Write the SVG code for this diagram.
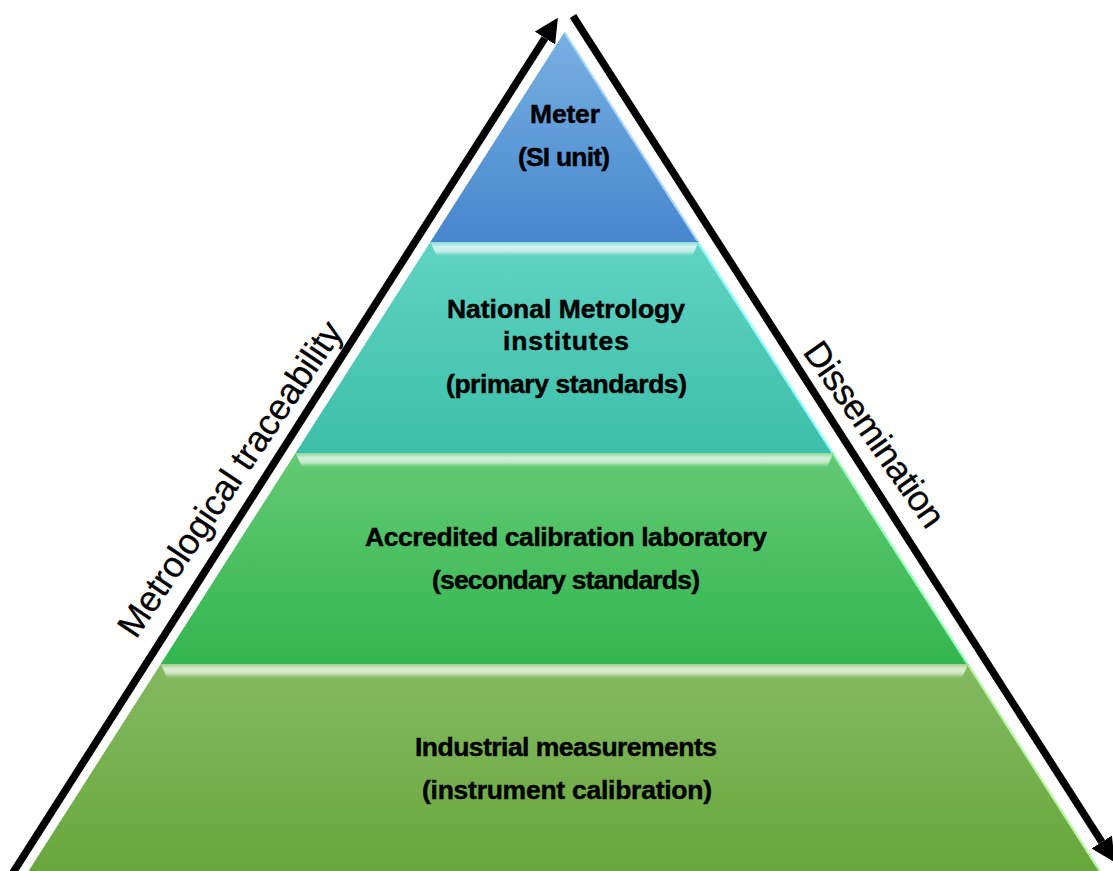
<svg xmlns="http://www.w3.org/2000/svg" width="1113" height="871" viewBox="0 0 1113 871">
  <defs>
    <style>
      .tier-label { font-family: "Liberation Sans", Arial, sans-serif; font-weight: bold; font-size: 26.5px; fill: #000; stroke: #000; stroke-width: 0.45; text-anchor: middle; }
      .side-label { font-family: "Liberation Sans", Arial, sans-serif; font-size: 36px; fill: #000; stroke: #000; stroke-width: 0.25; }
      .arrow { fill: none; stroke: #000; stroke-width: 7.5; stroke-linecap: butt; }
      .sheen { fill: none; stroke-width: 2.2; stroke-linecap: round; }
      .bevel { fill: url(#bevelGlow); }
    </style>
    <linearGradient id="g1" x1="0" y1="0" x2="0" y2="1">
      <stop offset="0" stop-color="#78b0e2"/>
      <stop offset="1" stop-color="#4686cc"/>
    </linearGradient>
    <linearGradient id="g2" x1="0" y1="0" x2="0" y2="1">
      <stop offset="0" stop-color="#61d3c3"/>
      <stop offset="1" stop-color="#3cbfa9"/>
    </linearGradient>
    <linearGradient id="g3" x1="0" y1="0" x2="0" y2="1">
      <stop offset="0" stop-color="#64ca75"/>
      <stop offset="1" stop-color="#33b54f"/>
    </linearGradient>
    <linearGradient id="g4" x1="0" y1="0" x2="0" y2="1">
      <stop offset="0" stop-color="#84ba62"/>
      <stop offset="1" stop-color="#66a539"/>
    </linearGradient>
    <!-- glossy strip along the top edge of each lower tier -->
    <linearGradient id="bevelGlow" x1="0" y1="0" x2="0" y2="1">
      <stop offset="0" stop-color="#ffffff" stop-opacity="0.25"/>
      <stop offset="0.35" stop-color="#ffffff" stop-opacity="0.72"/>
      <stop offset="0.65" stop-color="#ffffff" stop-opacity="0.62"/>
      <stop offset="1" stop-color="#ffffff" stop-opacity="0"/>
    </linearGradient>
    <marker id="head" markerUnits="userSpaceOnUse" viewBox="0 0 24 24" refX="0" refY="12" markerWidth="24" markerHeight="24" orient="auto">
      <path d="M0,0 L24,12 L0,24 Z" fill="#000"/>
    </marker>
  </defs>

  <rect width="1113" height="871" fill="#ffffff"/>

  <!-- Tier 1: apex -->
  <g id="tier-si-unit">
    <polygon points="564.5,32 698.7,242 430.3,242" fill="url(#g1)"/>
    <line class="sheen" x1="565.5" y1="34" x2="697" y2="240" stroke="#a9d6ff"/>
    <text class="tier-label" x="565" y="123" textLength="70">Meter</text>
    <text class="tier-label" x="564" y="166" textLength="92">(SI unit)</text>
  </g>

  <!-- Tier 2 -->
  <g id="tier-national">
    <polygon points="430.3,242 698.7,242 833.5,453 295.5,453" fill="url(#g2)"/>
    <polygon class="bevel" points="430.3,242 698.7,242 692.2,256 436.8,256"/>
    <line class="sheen" x1="699" y1="244" x2="832" y2="452" stroke="#8ffcff"/>
    <text class="tier-label" x="566" y="318" textLength="238">National Metrology</text>
    <text class="tier-label" x="566" y="350" textLength="126">institutes</text>
    <text class="tier-label" x="566.5" y="393" textLength="241">(primary standards)</text>
  </g>

  <!-- Tier 3 -->
  <g id="tier-accredited">
    <polygon points="295.5,453 833.5,453 968.3,664 160.7,664" fill="url(#g3)"/>
    <polygon class="bevel" points="295.5,453 833.5,453 827,467 302,467"/>
    <line class="sheen" x1="834" y1="455" x2="967" y2="663" stroke="#9dffc0"/>
    <text class="tier-label" x="566" y="546" textLength="402">Accredited calibration laboratory</text>
    <text class="tier-label" x="566" y="589" textLength="268">(secondary standards)</text>
  </g>

  <!-- Tier 4 -->
  <g id="tier-industrial">
    <polygon points="160.7,664 968.3,664 1110,886 19,886" fill="url(#g4)"/>
    <polygon class="bevel" points="160.7,664 968.3,664 961.8,678 167.2,678"/>
    <line class="sheen" x1="969" y1="666" x2="1108" y2="884" stroke="#b8f5a4"/>
    <text class="tier-label" x="566" y="756" textLength="302">Industrial measurements</text>
    <text class="tier-label" x="567" y="799" textLength="290">(instrument calibration)</text>
  </g>

  <!-- Side arrows -->
  <g id="connectors">
    <path class="arrow" d="M-4.5,900 L545,38" marker-end="url(#head)"/>
    <path class="arrow" d="M573,16 L1101.8,842" marker-end="url(#head)"/>
  </g>

  <g id="side-labels">
    <text class="side-label" transform="translate(136,640) rotate(-56)" textLength="372">Metrological traceability</text>
    <text class="side-label" transform="translate(802,352) rotate(55)" textLength="218">Dissemination</text>
  </g>
</svg>
